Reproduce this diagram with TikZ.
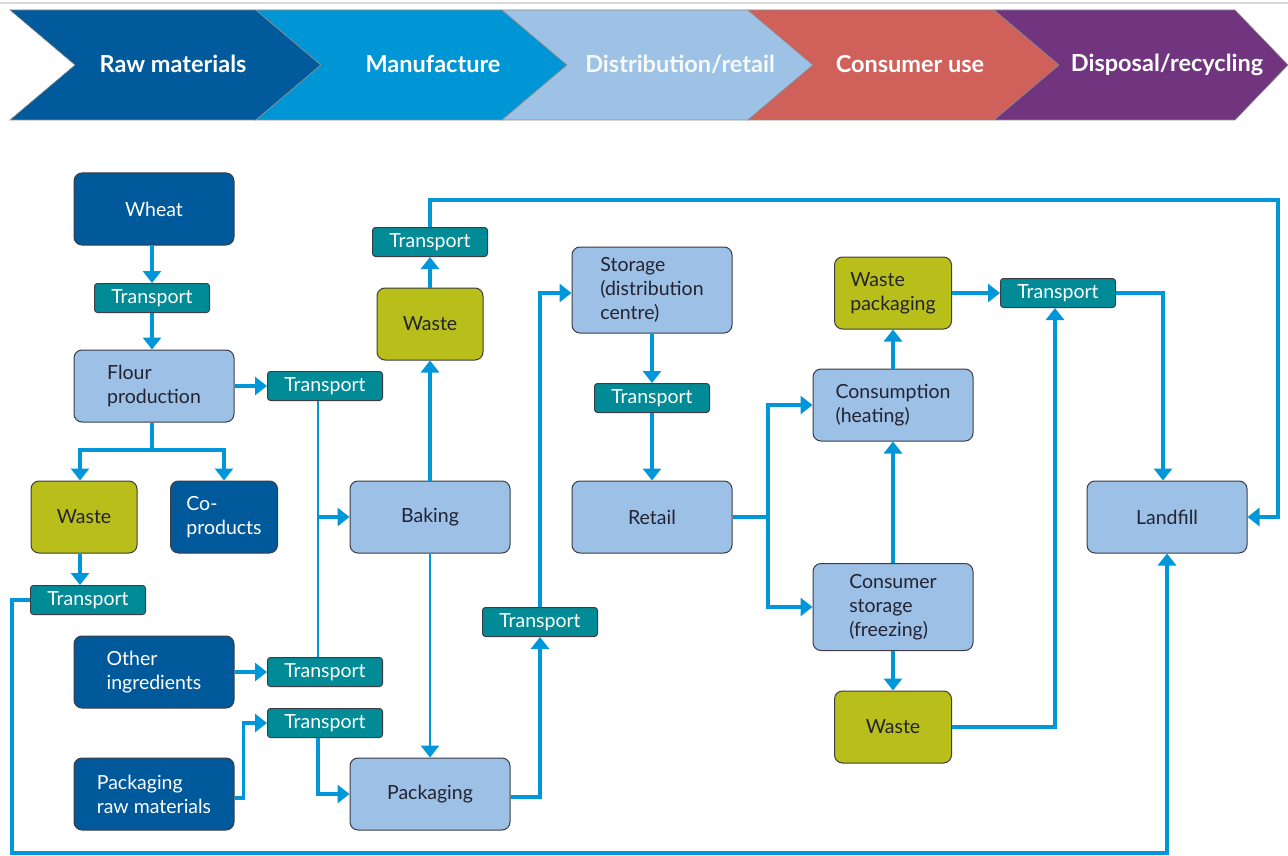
\documentclass[tikz,border=0pt]{standalone}
\usepackage{fontspec}
\setmainfont{Lato}
\usetikzlibrary{arrows.meta,calc}
\definecolor{chevA}{RGB}{0,90,156}
\definecolor{chevB}{RGB}{0,150,214}
\definecolor{chevC}{RGB}{157,194,230}
\definecolor{chevD}{RGB}{208,96,90}
\definecolor{chevE}{RGB}{113,53,128}
\definecolor{darkbox}{RGB}{0,89,155}
\definecolor{lightbox}{RGB}{157,192,230}
\definecolor{olivebox}{RGB}{184,190,26}
\definecolor{tealbox}{RGB}{0,139,150}
\definecolor{arrowblue}{RGB}{0,150,218}
\definecolor{boxborder}{RGB}{60,60,70}
\definecolor{darktext}{RGB}{35,35,50}
\tikzset{
  box/.style={rounded corners=8pt, draw=boxborder, line width=1pt, minimum width=160pt, minimum height=72pt, inner sep=0pt, align=left, font=\fontsize{19.5}{24}\selectfont},
  lbox/.style={box, fill=lightbox, text=darktext},
  dbox/.style={box, fill=darkbox, text=white},
  obox/.style={box, fill=olivebox, text=darktext, minimum width=106pt},
  tbox/.style={rounded corners=3pt, draw=boxborder, line width=1pt, fill=tealbox, text=white, minimum width=115pt, minimum height=29pt, inner sep=0pt, font=\fontsize{19.5}{22}\selectfont},
  flow/.style={draw=arrowblue, line width=4.5pt, -{Triangle[length=12pt,width=18pt]}},
  link/.style={draw=arrowblue, line width=4.5pt},
  thinlink/.style={draw=arrowblue, line width=2.8pt},
  chev/.style={draw=black!45, line width=0.6pt},
  htext/.style={text=white, font=\bfseries\fontsize{23.5}{26}\selectfont}
}
\begin{document}
\begin{tikzpicture}[x=1pt,y=-1pt]
\useasboundingbox (0,0) rectangle (1288,856);
\fill[white] (0,0) rectangle (1288,856);
\draw[black!15, line width=1.5pt] (0,3) -- (1288,3);
% header chevrons
\foreach \L/\c in {10/chevA,256/chevB,502/chevC,748/chevD}{
  \filldraw[chev, fill=\c] (\L,10) -- (\L+246,10) -- (\L+311,65) -- (\L+246,120) -- (\L,120) -- (\L+65,65) -- cycle;
}
\filldraw[chev, fill=chevE] (994,10) -- (1235,10) -- (1288,65) -- (1235,120) -- (994,120) -- (1059,65) -- cycle;
\node[htext] (h1) at (173,64) {Raw materials};
\node[htext] (h2) at (433,64) {Manufacture};
\node[htext, text=white!92!chevC] (h3) at (680,64) {Distribution/retail};
\node[htext] (h4) at (910,64) {Consumer use};
\node[htext] (h5) at (1167,65) {Disposal/recycling};

% nodes
\node[dbox] (wheat) at (154,209) {Wheat};
\node[tbox] (t1) at (152,298) {Transport};
\node[lbox] (flour) at (154,386) {Flour\\production};
\node[tbox] (t2) at (325,386) {Transport};
\node[obox] (waste1) at (84,517) {Waste};
\node[dbox, minimum width=107pt] (cop) at (224,517) {Co-\\products};
\node[tbox] (t3) at (88,600) {Transport};
\node[lbox] (baking) at (430,517) {Baking};
\node[obox] (waste2) at (430,324) {Waste};
\node[tbox] (t4) at (430,242) {Transport};
\node[dbox] (oi) at (154,672) {Other\\ingredients};
\node[tbox] (t5) at (325,672) {Transport};
\node[tbox] (t6) at (325,723) {Transport};
\node[dbox] (prm) at (154,794) {Packaging\\raw materials};
\node[lbox] (pack) at (430,794) {Packaging};
\node[tbox] (t7) at (540,622) {Transport};
\node[lbox, minimum height=86pt] (storage) at (652,290) {Storage\\(distribution\\centre)};
\node[tbox] (t8) at (652,398) {Transport};
\node[lbox] (retail) at (652,517) {Retail};
\node[obox, minimum width=117pt] (wp) at (893,293) {Waste\\packaging};
\node[lbox] (cons) at (893,405) {Consumption\\(heating)};
\node[lbox, minimum height=87pt] (cstor) at (893,607) {Consumer\\storage\\(freezing)};
\node[obox, minimum width=117pt] (waste3) at (893,727) {Waste};
\node[tbox] (t9) at (1058,293) {Transport};
\node[lbox] (landfill) at (1167,517) {Landfill};

% junction coordinates
\coordinate (fs) at (152,450);
\coordinate (j1) at (318,517);
\coordinate (j2) at (768,517);
\coordinate (lb) at (12,853);
\coordinate (tr) at (1278,200);

% connectors
\draw[flow] (wheat.south -| t1) -- (t1.north);
\draw[flow] (t1.south) -- (flour.north -| t1);
\draw[flow] (flour.east) -- (t2.west);
\draw[link] (flour.south -| fs) -- (fs);
\draw[flow] (fs) -| ($(waste1.north)+(-4,0)$);
\draw[flow] (fs) -| (cop.north);
\draw[flow] ($(waste1.south)+(-4,0)$) -- ($(waste1.south |- t3.north)+(-4,0)$);
\draw[flow, line width=3.6pt] (t3.west) -| (lb) -| (landfill.south);
\draw[thinlink] (t2.south -| j1) -- (j1) -- (t5.north -| j1);
\draw[flow] (j1) -- (baking.west);
\draw[flow] (oi.east) -- (t5.west);
\draw[flow, line width=3.6pt] ($(prm.east)+(0,4)$) -- ++(9,0) |- (t6.west);
\draw[flow, line width=3.6pt] (t6.south -| j1) |- (pack.west);
\draw[flow, line width=2.8pt] (baking.south) -- (pack.north);
\draw[flow] (baking.north) -- (waste2.south);
\draw[flow] (waste2.north) -- (t4.south);
\draw[flow, line width=3.6pt] (t4.north) |- (tr) |- (landfill.east);
\draw[flow, line width=3.6pt] ($(pack.east)+(0,3)$) -| (t7.south);
\draw[flow, line width=3.6pt] (t7.north) |- ($(storage.west)+(0,3)$);
\draw[flow] (storage.south) -- (t8.north);
\draw[flow] (t8.south) -- (retail.north);
\draw[link] (retail.east) -- (j2);
\draw[flow] (j2) |- (cons.west);
\draw[flow] (j2) |- (cstor.west);
\draw[flow] (cstor.north) -- (cons.south);
\draw[flow] (cons.north) -- (wp.south);
\draw[flow] (wp.east) -- (t9.west);
\draw[flow] (cstor.south) -- (waste3.north);
\draw[flow, line width=3.6pt] (waste3.east) -| ($(t9.south)+(-3,0)$);
\draw[flow] (t9.east) -| ($(landfill.north)+(-4,0)$);
\end{tikzpicture}
\end{document}
